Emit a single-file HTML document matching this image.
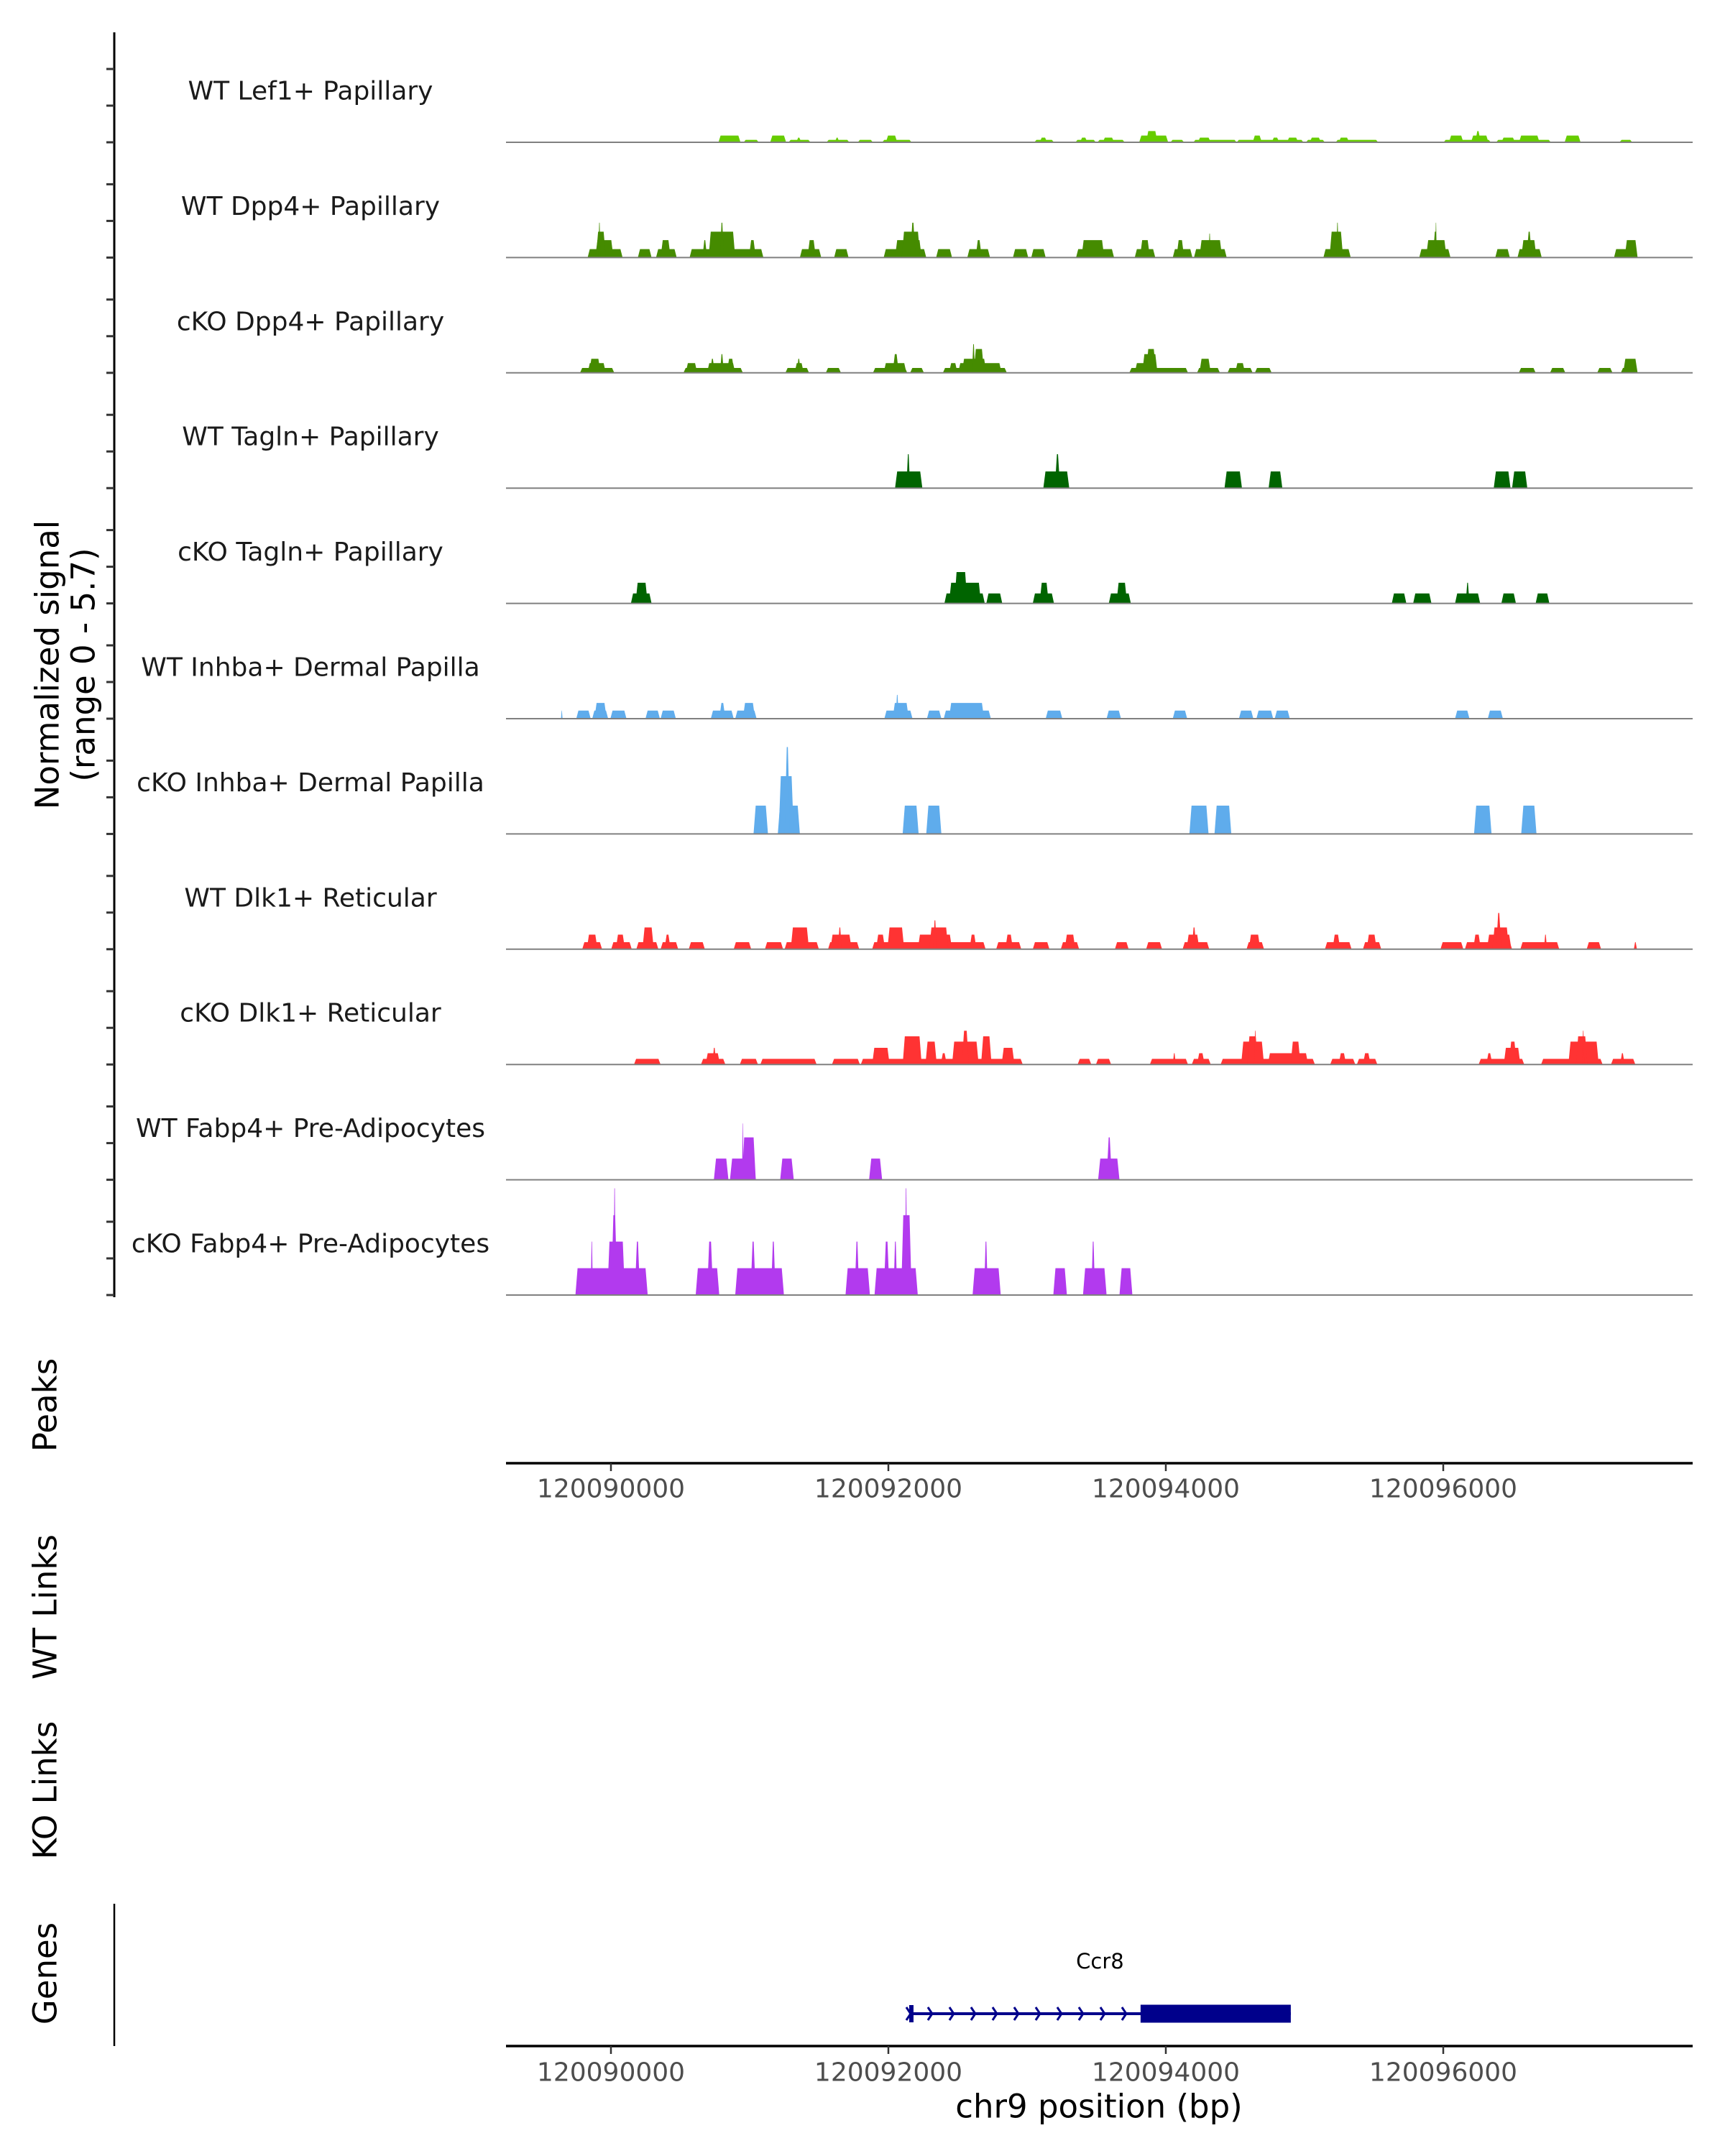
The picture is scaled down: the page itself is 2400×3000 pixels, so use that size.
<!DOCTYPE html>
<html><head><meta charset="utf-8"><style>
html,body{margin:0;padding:0;background:#fff;}
svg{display:block;font-family:"DejaVu Sans","Liberation Sans",sans-serif;}
</style></head><body>
<svg id="chart" width="2400" height="3000" viewBox="0 0 2400 3000" xmlns="http://www.w3.org/2000/svg">
<rect x="0" y="0" width="2400" height="3000" fill="#fff"/>
<g id="tracks"></g>
<line x1="159" y1="45" x2="159" y2="1805" stroke="#000" stroke-width="3"/>
<g id="yticks"></g>
<g transform="translate(66,925) rotate(-90)">
<text x="0" y="0" text-anchor="middle" dominant-baseline="central" font-size="45" fill="#000">Normalized signal</text>
<text x="0" y="50" text-anchor="middle" dominant-baseline="central" font-size="45" fill="#000">(range 0 - 5.7)</text>
</g>
<text transform="translate(63,1955) rotate(-90)" text-anchor="middle" dominant-baseline="central" font-size="45">Peaks</text>
<text transform="translate(63,2236) rotate(-90)" text-anchor="middle" dominant-baseline="central" font-size="45">WT Links</text>
<text transform="translate(63,2491) rotate(-90)" text-anchor="middle" dominant-baseline="central" font-size="45">KO Links</text>
<text transform="translate(63,2746) rotate(-90)" text-anchor="middle" dominant-baseline="central" font-size="45">Genes</text>
<g id="axes"></g>
<line x1="159" y1="2649" x2="159" y2="2847" stroke="#000" stroke-width="2.5"/>
<g id="genes"></g>
<text x="1529" y="2931" text-anchor="middle" dominant-baseline="central" font-size="45">chr9 position (bp)</text>
</svg>
<script>
const xTicks = [120090000, 120092000, 120094000, 120096000];
const trackNames = ["WT Lef1+ Papillary","WT Dpp4+ Papillary","cKO Dpp4+ Papillary","WT Tagln+ Papillary","cKO Tagln+ Papillary","WT Inhba+ Dermal Papilla","cKO Inhba+ Dermal Papilla","WT Dlk1+ Reticular","cKO Dlk1+ Reticular","WT Fabp4+ Pre-Adipocytes","cKO Fabp4+ Pre-Adipocytes"];
const trackColors = ["#66CC00","#458B00","#458B00","#006400","#006400","#5FACEC","#5FACEC","#FF3333","#FF3333","#B23AEE","#B23AEE"];
const wtLef1 = [[120090775,120090934,0.13],[120090775,120090934,0.36],[120090956,120091066,0.13],[120091148,120091263,0.36],[120091280,120091439,0.13],[120091335,120091373,0.25],[120091554,120091719,0.13],[120091614,120091647,0.25],[120091779,120091889,0.13],[120091955,120092168,0.13],[120091982,120092064,0.36],[120093052,120093194,0.13],[120093090,120093145,0.25],[120093348,120093496,0.13],[120093381,120093435,0.25],[120093507,120093704,0.13],[120093545,120093628,0.25],[120093808,120094017,0.36],[120093858,120093940,0.6],[120094033,120094132,0.13],[120094198,120094511,0.13],[120094231,120094324,0.25],[120094511,120094993,0.13],[120094626,120094692,0.36],[120094763,120094818,0.25],[120094873,120094955,0.25],[120095010,120095147,0.13],[120095037,120095119,0.25],[120095224,120095531,0.13],[120095246,120095322,0.25],[120096002,120096343,0.13],[120096041,120096145,0.36],[120096200,120096326,0.36],[120096230,120096270,0.6],[120096381,120096776,0.13],[120096419,120096518,0.25],[120096546,120096694,0.36],[120096875,120096990,0.36],[120097270,120097363,0.13]];
const wtDpp4 = [[120089832,120090084,0.45],[120089887,120090018,0.93],[120089892,120089963,1.38],[120089909,120089925,1.86],[120090194,120090293,0.45],[120090325,120090474,0.45],[120090358,120090430,0.93],[120090567,120091099,0.45],[120090704,120090896,1.38],[120090786,120090814,1.86],[120090660,120090693,0.93],[120090995,120091044,0.93],[120091362,120091516,0.45],[120091417,120091477,0.93],[120091609,120091713,0.45],[120091966,120092273,0.45],[120092048,120092240,0.93],[120092097,120092229,1.38],[120092157,120092196,1.86],[120092344,120092459,0.45],[120092569,120092733,0.45],[120092629,120092673,0.93],[120092898,120093008,0.45],[120093030,120093134,0.45],[120093353,120093627,0.45],[120093392,120093556,0.93],[120093776,120093924,0.45],[120093814,120093885,0.93],[120094050,120094192,0.45],[120094077,120094132,0.93],[120094203,120094439,0.45],[120094242,120094406,0.93],[120094308,120094324,1.28],[120095136,120095333,0.45],[120095180,120095278,1.38],[120095229,120095246,1.86],[120095827,120096052,0.45],[120095876,120096024,0.93],[120095926,120095959,1.38],[120095942,120095953,1.86],[120096375,120096480,0.45],[120096535,120096710,0.45],[120096562,120096672,0.93],[120096600,120096639,1.38],[120097231,120097401,0.45],[120097308,120097401,0.93]];
const koDpp4 = [[120089777,120090024,0.26],[120089832,120089963,0.52],[120089843,120089925,0.75],[120090523,120090951,0.26],[120090539,120090622,0.52],[120090693,120090896,0.52],[120090715,120090748,0.75],[120090786,120090814,1.0],[120090836,120090890,0.75],[120091258,120091428,0.26],[120091324,120091390,0.52],[120091340,120091368,0.75],[120091549,120091658,0.26],[120091889,120092136,0.26],[120091966,120092130,0.52],[120092031,120092075,1.0],[120092157,120092256,0.26],[120092393,120092854,0.26],[120092437,120092498,0.52],[120092503,120092816,0.52],[120092530,120092706,0.75],[120092615,120092690,1.27],[120092603,120092625,1.53],[120093737,120094160,0.26],[120093776,120093940,0.52],[120093830,120093940,1.0],[120093858,120093929,1.27],[120094225,120094390,0.26],[120094242,120094324,0.75],[120094445,120094626,0.26],[120094500,120094571,0.52],[120094642,120094763,0.26],[120096545,120096666,0.26],[120096770,120096880,0.26],[120097110,120097220,0.26],[120097280,120097401,0.26],[120097297,120097401,0.75]];
const wtTagln = [[120092048,120092245,0.89],[120092130,120092157,1.81],[120093117,120093304,0.89],[120093200,120093238,1.81],[120094423,120094549,0.89],[120094741,120094840,0.89],[120096364,120096485,0.89],[120096496,120096606,0.89]];
const koTagln = [[120090144,120090293,0.53],[120090177,120090265,1.1],[120092404,120092695,0.53],[120092437,120092668,1.1],[120092476,120092569,1.67],[120092706,120092821,0.53],[120093041,120093194,0.53],[120093090,120093156,1.1],[120093589,120093748,0.53],[120093644,120093721,1.1],[120095629,120095734,0.53],[120095783,120095915,0.53],[120096085,120096266,0.53],[120096162,120096189,1.1],[120096419,120096524,0.53],[120096666,120096765,0.53]];
const wtInhba = [[120089640,120089651,0.43],[120089750,120089854,0.43],[120089865,120089980,0.43],[120089881,120089969,0.84],[120089996,120090112,0.43],[120090249,120090353,0.43],[120090358,120090468,0.43],[120090720,120090885,0.43],[120090781,120090825,0.84],[120090896,120091050,0.43],[120090951,120091039,0.84],[120091971,120092174,0.43],[120092031,120092147,0.84],[120092053,120092075,1.27],[120092278,120092382,0.43],[120092399,120092739,0.43],[120092437,120092690,0.84],[120093134,120093254,0.43],[120093573,120093677,0.43],[120094050,120094154,0.43],[120094527,120094631,0.43],[120094653,120094774,0.43],[120094785,120094894,0.43],[120096085,120096189,0.43],[120096321,120096430,0.43]];
const koInhba = [[120091028,120091132,1.51],[120091203,120091362,1.51],[120091209,120091318,3.08],[120091252,120091291,4.63],[120092103,120092218,1.51],[120092273,120092382,1.51],[120094170,120094308,1.51],[120094351,120094472,1.51],[120096222,120096348,1.51],[120096562,120096672,1.51]];
const wtDlk1 = [[120089793,120089936,0.375],[120089826,120089903,0.78],[120090002,120090150,0.375],[120090035,120090101,0.78],[120090183,120090342,0.375],[120090227,120090309,1.16],[120090358,120090485,0.375],[120090386,120090430,0.78],[120090561,120090677,0.375],[120090885,120091011,0.375],[120091110,120091241,0.375],[120091252,120091499,0.375],[120091296,120091428,1.16],[120091565,120091790,0.375],[120091582,120091735,0.78],[120091636,120091664,1.16],[120091883,120092701,0.375],[120091911,120091976,0.78],[120091993,120092114,1.16],[120092212,120092459,0.78],[120092295,120092432,1.16],[120092322,120092349,1.54],[120092585,120092635,0.78],[120092777,120092958,0.375],[120092843,120092898,0.78],[120093041,120093161,0.375],[120093243,120093375,0.375],[120093271,120093348,0.78],[120093633,120093732,0.375],[120093858,120093973,0.375],[120094121,120094313,0.375],[120094149,120094242,0.78],[120094187,120094220,1.16],[120094582,120094708,0.375],[120094598,120094681,0.78],[120095147,120095339,0.375],[120095202,120095257,0.78],[120095421,120095553,0.375],[120095448,120095520,0.78],[120095980,120096145,0.375],[120096156,120096496,0.375],[120096216,120096271,0.78],[120096315,120096491,0.78],[120096354,120096474,1.16],[120096381,120096419,1.93],[120096556,120096836,0.375],[120096726,120096748,0.78],[120097034,120097138,0.375],[120097374,120097396,0.375]];
const koDlk1 = [[120090166,120090358,0.3],[120090649,120090825,0.3],[120090682,120090786,0.6],[120090731,120090759,0.89],[120090929,120091060,0.3],[120091077,120091483,0.3],[120091593,120091795,0.3],[120091801,120092969,0.3],[120091883,120092009,0.89],[120092103,120092240,1.5],[120092267,120092349,1.22],[120092377,120092421,0.6],[120092459,120092651,1.22],[120092530,120092580,1.8],[120092668,120092744,1.5],[120092816,120092909,0.89],[120093364,120093463,0.3],[120093496,120093606,0.3],[120093885,120094160,0.3],[120094050,120094072,0.6],[120094187,120094324,0.3],[120094225,120094280,0.6],[120094395,120095075,0.3],[120094543,120094708,1.22],[120094587,120094664,1.5],[120094637,120094653,1.8],[120094735,120095026,0.6],[120094900,120094971,1.22],[120095185,120095366,0.3],[120095246,120095300,0.6],[120095377,120095525,0.3],[120095421,120095476,0.6],[120096255,120096584,0.3],[120096310,120096354,0.6],[120096436,120096556,0.89],[120096474,120096529,1.22],[120096705,120097149,0.3],[120096902,120097121,1.22],[120096957,120097039,1.5],[120097001,120097017,1.8],[120097209,120097385,0.3],[120097275,120097308,0.6]];
const wtFabp4 = [[120090742,120090847,1.13],[120090858,120091044,1.13],[120090945,120091044,2.26],[120090945,120090956,3.0],[120091220,120091318,1.13],[120091861,120091955,1.13],[120093512,120093666,1.13],[120093573,120093611,2.26]];
const koFabp4 = [[120089744,120090265,1.43],[120089854,120089870,2.85],[120089974,120090101,2.85],[120090002,120090046,4.26],[120090018,120090035,5.69],[120090172,120090210,2.85],[120090611,120090781,1.43],[120090693,120090737,2.85],[120090896,120091247,1.43],[120091006,120091044,2.85],[120091154,120091187,2.85],[120091691,120091867,1.43],[120091757,120091790,2.85],[120091900,120092212,1.43],[120091966,120092009,2.85],[120092037,120092064,2.85],[120092092,120092168,4.26],[120092119,120092136,5.69],[120092607,120092810,1.43],[120092690,120092717,2.85],[120093189,120093287,1.43],[120093403,120093573,1.43],[120093463,120093490,2.85],[120093666,120093759,1.43]];
const trackData = [wtLef1, wtDpp4, koDpp4, wtTagln, koTagln, wtInhba, koInhba, wtDlk1, koDlk1, wtFabp4, koFabp4];
const geneName = ["Ccr8"];
const geneStart = [120092150];
const geneEnd = [120094901];
const cdsStart = [120093818];

const NS = "http://www.w3.org/2000/svg";
const X0 = 850, BP0 = 120090000, PXPB = 0.193;
function xScale(bp){ return X0 + (bp - BP0) * PXPB; }
const PX_PER_UNIT = 26.1;
function yScale(base, v){ return base - v * PX_PER_UNIT; }
function baseOf(i){ return 198 + 160.4 * i; }
function mk(tag, attrs){ const e = document.createElementNS(NS, tag); for (const k in attrs) e.setAttribute(k, attrs[k]); return e; }

const tracksG = document.getElementById('tracks');
const ytG = document.getElementById('yticks');
trackData.forEach((peaks, i) => {
  const base = baseOf(i);
  const g = mk('g', {});
  
  
  tracksG.appendChild(g);
  const lab = mk('text', {x: 432, y: base - 71, 'text-anchor': 'middle', 'dominant-baseline': 'central', 'font-size': 36, fill: '#1a1a1a'});
  lab.textContent = trackNames[i];
  
  
  g.appendChild(lab);
  peaks.forEach(p => {
    const xs = xScale(p[0]), xe = xScale(p[1]), yt = yScale(base, p[2]);
    const w = xe - xs, t = Math.min(3, w / 2.5);
    const poly = mk('polygon', {points: `${xs},${base} ${xs + t},${yt} ${xe - t},${yt} ${xe},${base}`, fill: trackColors[i]});
    
    
    g.appendChild(poly);
  });
  const bl = mk('line', {x1: 704, x2: 2355, y1: base, y2: base, stroke: '#808080', 'stroke-width': 2});
  
  
  g.appendChild(bl);
  [0, 51, 102].forEach(d => {
    const tk = mk('line', {x1: 148, x2: 159, y1: base - d, y2: base - d, stroke: '#333', 'stroke-width': 3});
    
    
    ytG.appendChild(tk);
  });
});

const axesG = document.getElementById('axes');
[[2036, 2072, 'peaks-x-axis'], [2847, 2884, 'genes-x-axis']].forEach(a => {
  const ln = mk('line', {x1: 704, x2: 2355, y1: a[0], y2: a[0], stroke: '#000', 'stroke-width': 3.5});
  
  
  axesG.appendChild(ln);
  xTicks.forEach(t => {
    const x = xScale(t);
    const tk = mk('line', {x1: x, x2: x, y1: a[0], y2: a[0] + 11, stroke: '#333', 'stroke-width': 2.5});
    
    
    axesG.appendChild(tk);
    const tl = mk('text', {x: x, y: a[1], 'text-anchor': 'middle', 'dominant-baseline': 'central', 'font-size': 36, fill: '#4d4d4d'});
    tl.textContent = String(t);
    
    
    axesG.appendChild(tl);
  });
});

const genesG = document.getElementById('genes');
geneName.forEach((nm, i) => {
  const xs = xScale(geneStart[i]), xe = xScale(geneEnd[i]), xc = xScale(cdsStart[i]);
  const gy = 2802;
  const lab = mk('text', {x: (xs + xe) / 2, y: 2729, 'text-anchor': 'middle', 'dominant-baseline': 'central', 'font-size': 29, fill: '#000'});
  lab.textContent = nm;
  
  
  genesG.appendChild(lab);
  const ln = mk('line', {x1: xs, x2: xe, y1: gy, y2: gy, stroke: '#00008B', 'stroke-width': 4});
  
  
  genesG.appendChild(ln);
  const ex = mk('rect', {x: xs, y: gy - 12, width: 6, height: 24, fill: '#00008B'});
  
  
  genesG.appendChild(ex);
  const cds = mk('rect', {x: xc, y: gy - 12.5, width: xe - xc, height: 25, fill: '#00008B'});
  
  
  genesG.appendChild(cds);
  for (let ax = xs - 4; ax < xc - 10; ax += 30) {
    const ar = mk('polyline', {points: `${ax},${gy - 9} ${ax + 6},${gy} ${ax},${gy + 9}`, fill: 'none', stroke: '#00008B', 'stroke-width': 3});
    
    
    genesG.appendChild(ar);
  }
});
</script>
</body></html>
